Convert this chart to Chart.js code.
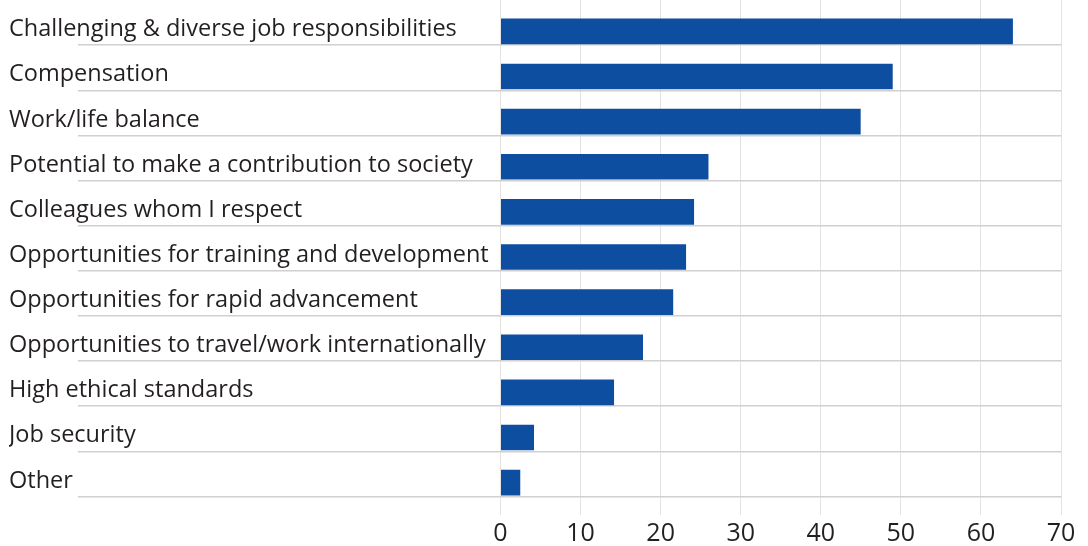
<!DOCTYPE html>
<html lang="en">
<head>
    <meta charset="UTF-8">
    <title>Job attributes</title>
    <script src="https://cdn.jsdelivr.net/npm/chart.js@4.4.3/dist/chart.umd.min.js"></script>
    <style>
        html, body { margin: 0; padding: 0; background: #ffffff; }
        canvas { display: block; }
    </style>
</head>
<body>
    <canvas id="attributesChart" width="1088" height="546"></canvas>
    <script>
        // Data
        const categories = [
            'Challenging & diverse job responsibilities',
            'Compensation',
            'Work/life balance',
            'Potential to make a contribution to society',
            'Colleagues whom I respect',
            'Opportunities for training and development',
            'Opportunities for rapid advancement',
            'Opportunities to travel/work internationally',
            'High ethical standards',
            'Job security',
            'Other'
        ];
        const values = [64, 49, 45, 26, 24.2, 23.2, 21.6, 17.8, 14.2, 4.2, 2.5];
        const xTicks = [0, 10, 20, 30, 40, 50, 60, 70];

        const textColor = '#231f20';
        const barColor = '#0d4ea1';

        new Chart(document.getElementById('attributesChart'), {
            type: 'bar',
            data: {
                labels: categories,
                datasets: [{
                    data: values,
                    backgroundColor: barColor,
                    // transparent top border pushes the bar down onto the row line
                    borderColor: 'rgba(0,0,0,0)',
                    borderWidth: { top: 18.5, bottom: 1, left: 0, right: 0 },
                    borderSkipped: false,
                    categoryPercentage: 1,
                    barPercentage: 1,
                    inflateAmount: 0
                }]
            },
            options: {
                indexAxis: 'y',
                responsive: false,
                animation: false,
                layout: {
                    padding: { left: 9, right: 27, top: 0, bottom: 0 }
                },
                plugins: {
                    legend: { display: false },
                    tooltip: { enabled: false }
                },
                scales: {
                    x: {
                        min: xTicks[0],
                        max: xTicks[xTicks.length - 1],
                        afterBuildTicks: (scale) => {
                            scale.ticks = xTicks.map(v => ({ value: v }));
                        },
                        afterFit: (scale) => { scale.height = 49.5; },
                        border: { display: false },
                        grid: {
                            color: '#e3e3e3',
                            lineWidth: 1,
                            drawTicks: true,
                            tickLength: 18.5
                        },
                        ticks: {
                            color: textColor,
                            padding: 4,
                            font: { family: 'Open Sans', size: 25 }
                        }
                    },
                    y: {
                        afterFit: (scale) => {
                            scale.width = 491.5;
                            scale.paddingTop = 0;
                            scale.paddingBottom = 0;
                        },
                        border: { display: false },
                        grid: {
                            offset: true,
                            color: (ctx) => ctx.index === 0 ? 'rgba(0,0,0,0)' : '#d0d0d0',
                            lineWidth: 1.5,
                            drawTicks: true,
                            tickLength: 422.5
                        },
                        ticks: {
                            crossAlign: 'far',
                            labelOffset: 7,
                            color: textColor,
                            font: { family: 'Open Sans', size: 23.5 }
                        }
                    }
                }
            }
        });
    </script>
</body>
</html>
